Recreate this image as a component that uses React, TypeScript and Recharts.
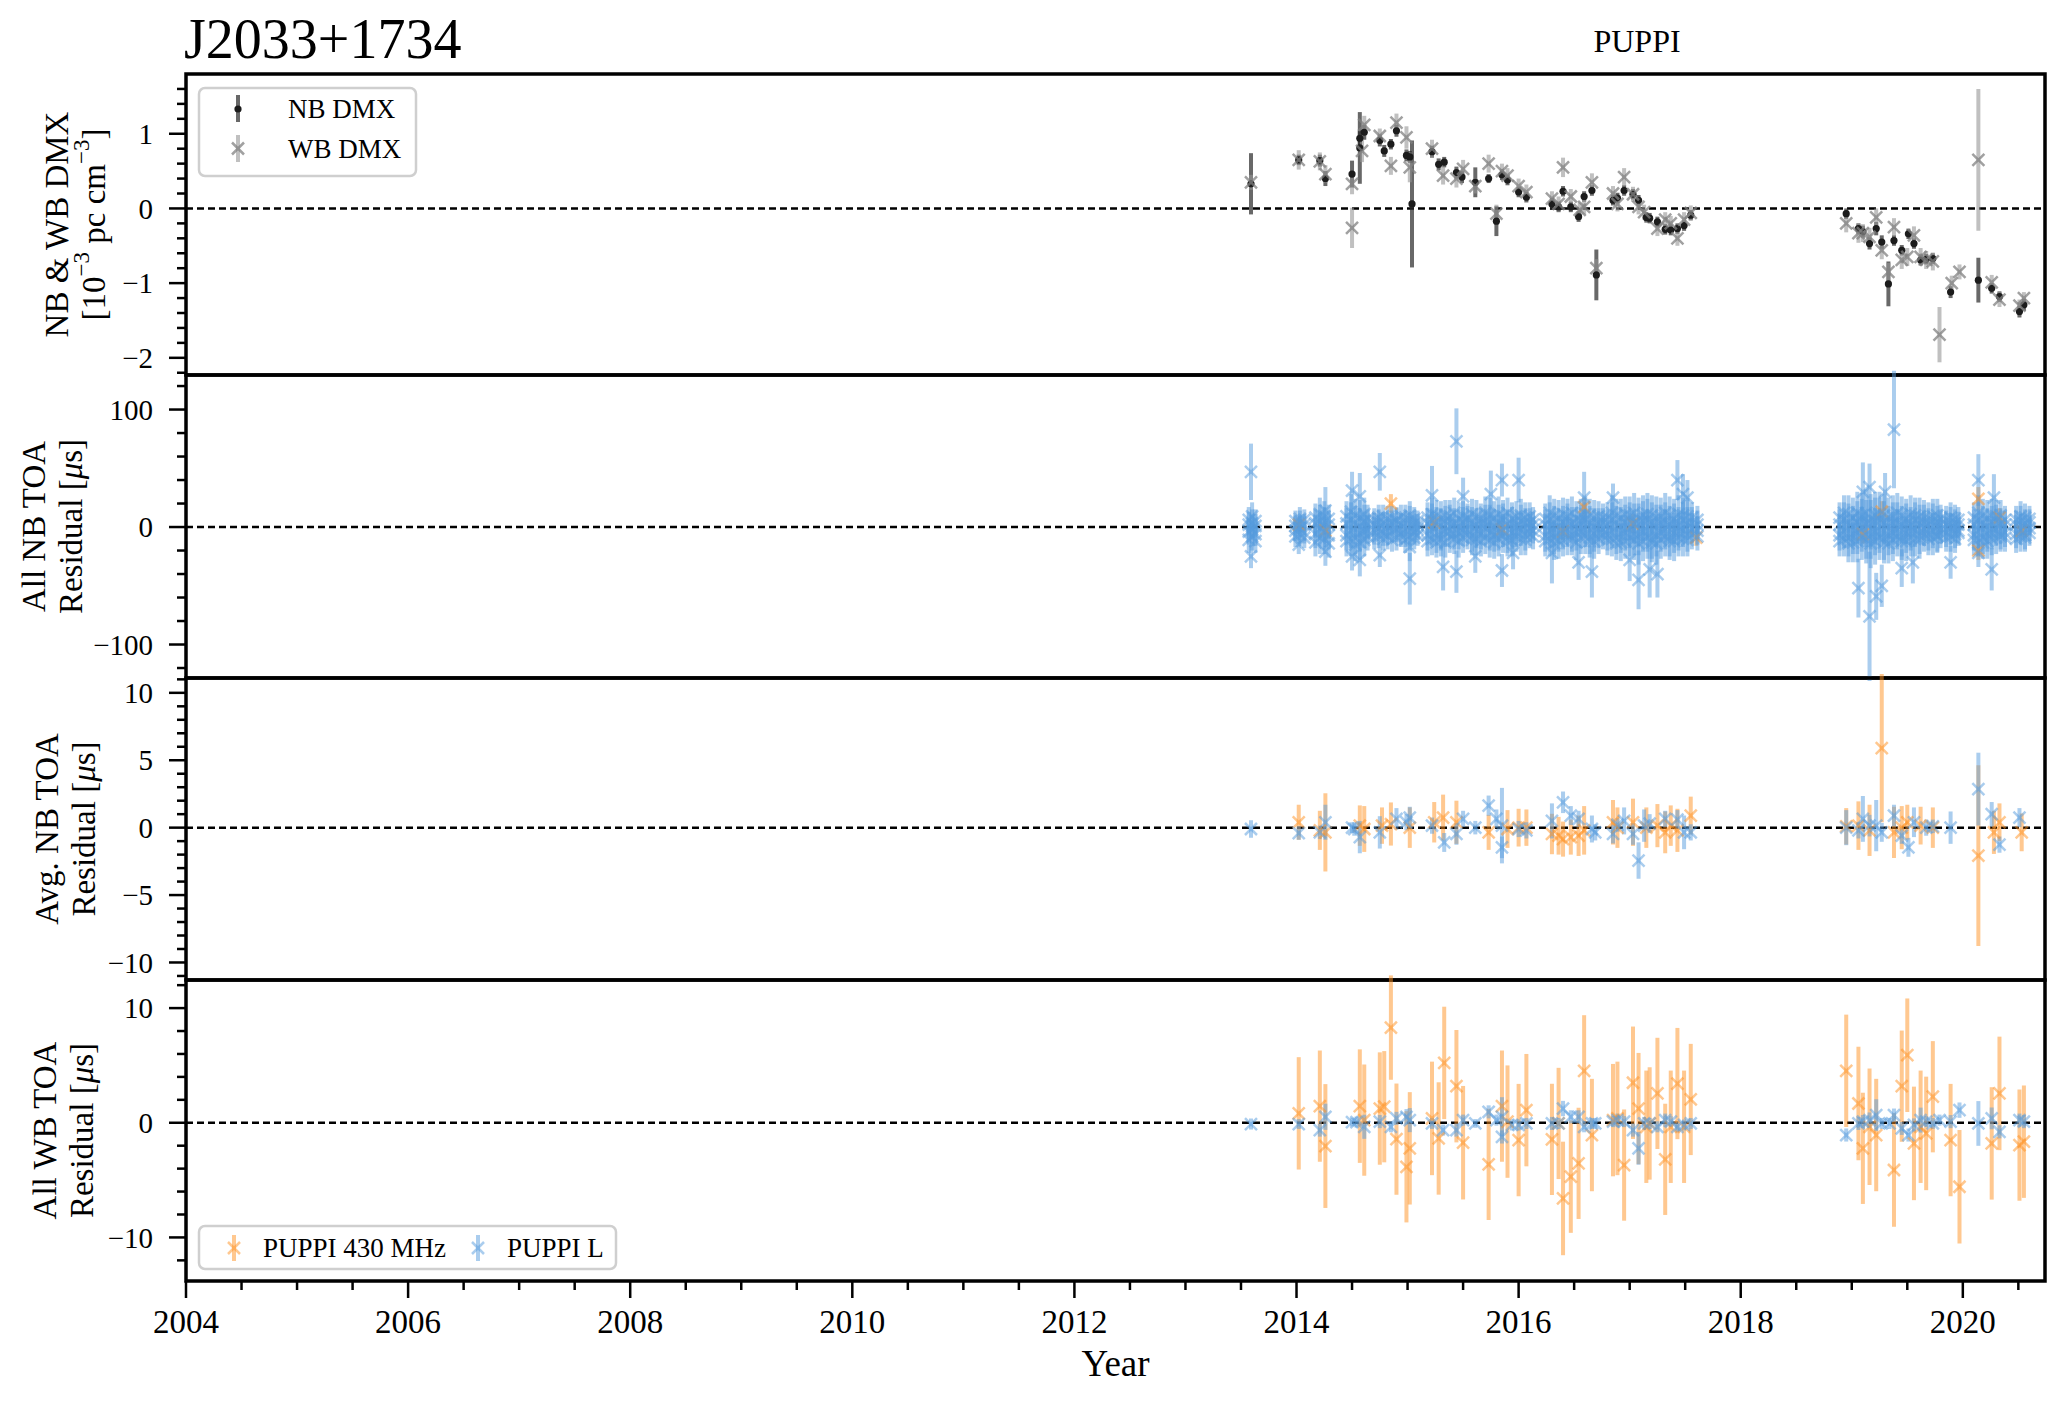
import React from 'react';
import { ScatterChart, Scatter, XAxis, YAxis, ErrorBar, ReferenceLine, ReferenceArea } from 'recharts';

const FONT = '"Liberation Serif", "Times New Roman", Times, serif';
const XMIN = 2004;
const XMAX = 2020.74;

// tick positions
const xMajor = [2004, 2006, 2008, 2010, 2012, 2014, 2016, 2018, 2020];
const xMinor = [2004.5, 2005, 2005.5, 2006.5, 2007, 2007.5, 2008.5, 2009, 2009.5, 2010.5, 2011, 2011.5,
  2012.5, 2013, 2013.5, 2014.5, 2015, 2015.5, 2016.5, 2017, 2017.5, 2018.5, 2019, 2019.5, 2020.5];
const dmxMajor = [-2, -1, 0, 1];
const dmxMinor = [-2.2, -1.8, -1.6, -1.4, -1.2, -0.8, -0.6, -0.4, -0.2, 0.2, 0.4, 0.6, 0.8, 1.2, 1.4, 1.6];
const nbMajor = [-100, 0, 100];
const nbMinor = [-120, -80, -60, -40, -20, 20, 40, 60, 80, 120];
const avgMajor = [-10, -5, 0, 5, 10];
const avgMinor = [-11, -9, -8, -7, -6, -4, -3, -2, -1, 1, 2, 3, 4, 6, 7, 8, 9, 11];
const wbMajor = [-10, 0, 10];
const wbMinor = [-12, -8, -6, -4, -2, 2, 4, 6, 8, 12];

// panel 1: DMX [year, value, err]
const nbDmx = [
  [2013.59, 0.33, 0.41], [2014.02, 0.65, 0.07], [2014.21, 0.64, 0.08], [2014.26, 0.40, 0.1],
  [2014.50, 0.46, 0.18], [2014.57, 0.81, 0.48], [2014.57, 0.94, 0.1], [2014.61, 1.02, 0.1],
  [2014.75, 0.91, 0.08], [2014.79, 0.77, 0.08], [2014.85, 0.86, 0.07], [2014.90, 1.04, 0.08],
  [2014.99, 0.71, 0.08], [2015.02, 0.69, 0.08], [2015.04, 0.06, 0.85], [2015.22, 0.76, 0.08],
  [2015.28, 0.59, 0.08], [2015.33, 0.62, 0.07], [2015.44, 0.48, 0.08], [2015.49, 0.42, 0.08],
  [2015.61, 0.35, 0.2], [2015.73, 0.40, 0.06], [2015.80, -0.17, 0.2], [2015.85, 0.45, 0.07],
  [2015.90, 0.38, 0.07], [2016.00, 0.22, 0.07], [2016.07, 0.15, 0.07], [2016.30, 0.06, 0.08],
  [2016.36, 0.02, 0.07], [2016.40, 0.23, 0.07], [2016.47, 0.02, 0.07], [2016.54, -0.11, 0.07],
  [2016.59, 0.16, 0.07], [2016.66, 0.24, 0.07], [2016.70, -0.89, 0.34], [2016.85, 0.11, 0.07],
  [2016.89, 0.14, 0.07], [2016.95, 0.24, 0.07], [2017.03, 0.19, 0.07], [2017.08, 0.11, 0.07],
  [2017.15, -0.12, 0.07], [2017.18, -0.13, 0.07], [2017.25, -0.18, 0.07], [2017.32, -0.28, 0.07],
  [2017.37, -0.29, 0.07], [2017.43, -0.27, 0.07], [2017.49, -0.23, 0.07], [2017.55, -0.09, 0.07],
  [2018.95, -0.07, 0.07], [2019.06, -0.27, 0.07], [2019.10, -0.31, 0.08], [2019.16, -0.47, 0.08],
  [2019.22, -0.27, 0.09], [2019.27, -0.45, 0.09], [2019.33, -1.01, 0.3], [2019.38, -0.43, 0.07],
  [2019.45, -0.56, 0.07], [2019.51, -0.34, 0.07], [2019.56, -0.47, 0.07], [2019.62, -0.69, 0.07],
  [2019.67, -0.68, 0.07], [2019.73, -0.67, 0.07], [2019.89, -1.12, 0.08], [2020.14, -0.96, 0.3],
  [2020.26, -1.07, 0.07], [2020.33, -1.18, 0.07], [2020.51, -1.38, 0.08], [2020.55, -1.29, 0.08],
];
const wbDmx = [
  [2013.59, 0.35, 0.1], [2014.02, 0.65, 0.13], [2014.21, 0.63, 0.12], [2014.26, 0.46, 0.12],
  [2014.50, 0.33, 0.14], [2014.50, -0.26, 0.27], [2014.59, 0.77, 0.15], [2014.61, 1.12, 0.12],
  [2014.75, 0.97, 0.1], [2014.85, 0.57, 0.12], [2014.90, 1.15, 0.12], [2014.99, 0.95, 0.15],
  [2015.02, 0.55, 0.2], [2015.22, 0.80, 0.12], [2015.32, 0.44, 0.12], [2015.44, 0.40, 0.12],
  [2015.50, 0.53, 0.12], [2015.61, 0.30, 0.1], [2015.73, 0.60, 0.12], [2015.80, -0.07, 0.12],
  [2015.85, 0.50, 0.1], [2015.90, 0.44, 0.1], [2016.00, 0.30, 0.1], [2016.07, 0.22, 0.1],
  [2016.30, 0.13, 0.1], [2016.36, 0.06, 0.1], [2016.40, 0.55, 0.13], [2016.47, 0.16, 0.1],
  [2016.55, -0.02, 0.1], [2016.59, 0.02, 0.1], [2016.66, 0.35, 0.12], [2016.70, -0.80, 0.12],
  [2016.85, 0.20, 0.1], [2016.89, 0.06, 0.1], [2016.95, 0.42, 0.12], [2017.03, 0.19, 0.1],
  [2017.08, 0.02, 0.1], [2017.13, -0.05, 0.1], [2017.25, -0.27, 0.1], [2017.32, -0.15, 0.1],
  [2017.37, -0.20, 0.1], [2017.43, -0.40, 0.1], [2017.49, -0.15, 0.1], [2017.55, -0.06, 0.1],
  [2018.95, -0.2, 0.12], [2019.06, -0.33, 0.13], [2019.10, -0.33, 0.12], [2019.16, -0.38, 0.12],
  [2019.22, -0.12, 0.12], [2019.27, -0.56, 0.12], [2019.33, -0.85, 0.12], [2019.38, -0.25, 0.12],
  [2019.45, -0.69, 0.12], [2019.50, -0.65, 0.12], [2019.56, -0.36, 0.12], [2019.62, -0.65, 0.12],
  [2019.67, -0.69, 0.12], [2019.73, -0.71, 0.12], [2019.79, -1.69, 0.37], [2019.90, -1.0, 0.1],
  [2019.97, -0.85, 0.1], [2020.14, 0.65, 0.95], [2020.26, -0.99, 0.1], [2020.33, -1.22, 0.1],
  [2020.51, -1.30, 0.08], [2020.55, -1.20, 0.08],
];

// panel 2: all NB TOAs, per epoch [year, err, residuals...]
const nbLEpochs = [
  [2013.57, 11, -4, 6, -11, 2], [2013.60, 12, 3, -8, 9, -2], [2013.63, 10, -6, 5, 1, -12],
  [2013.99, 9, -3, 5, -8, 1], [2014.03, 10, 4, -6, 7, -1], [2014.07, 9, -5, 2, 6, -9],
  [2014.17, 12, -6, 8, -13, 3], [2014.21, 14, 5, -9, 11, -2], [2014.25, 13, -10, 4, 9, -4], [2014.29, 12, 7, -7, -14, 2],
  [2014.45, 13, -7, 9, -12, 3], [2014.49, 15, 6, -10, 13, -3], [2014.53, 14, -9, 4, 10, -15],
  [2014.57, 15, 8, -6, -13, 1], [2014.61, 14, -4, 11, -11, 5], [2014.64, 12, 3, -8, 7, -2],
  [2014.70, 10, -5, 6, -9, 2], [2014.74, 11, 4, -7, 8, -1], [2014.78, 10, -6, 3, 9, -10], [2014.82, 11, 7, -4, -8, 1],
  [2014.86, 10, -3, 8, -11, 4], [2014.90, 11, 5, -9, 6, -2], [2014.94, 10, -7, 2, 9, -5], [2014.98, 11, 3, -6, 8, -11],
  [2015.02, 12, -8, 6, -3, 10], [2015.06, 10, 4, -5, 7, -9], [2015.09, 9, -2, 5, -7, 2],
  [2015.18, 13, -7, 8, -12, 3], [2015.22, 14, 6, -10, 11, -1], [2015.26, 13, -9, 4, 10, -13], [2015.30, 14, 8, -6, -11, 2],
  [2015.34, 13, -4, 10, -13, 5], [2015.38, 14, 5, -8, 9, -3], [2015.42, 13, -10, 3, 12, -6], [2015.46, 14, 7, -5, -12, 1],
  [2015.50, 13, -3, 9, -9, 4], [2015.54, 12, 6, -7, 8, -2], [2015.58, 13, -8, 4, 11, -11], [2015.62, 14, 9, -4, -10, 2],
  [2015.66, 13, -6, 7, -12, 3], [2015.70, 14, 5, -9, 12, -1], [2015.74, 15, -11, 4, 10, -5], [2015.78, 14, 8, -7, -13, 1],
  [2015.82, 15, -5, 11, -10, 4], [2015.86, 14, 6, -8, 9, -3], [2015.90, 13, -9, 2, 12, -12], [2015.94, 14, 7, -5, -11, 3],
  [2015.98, 13, -4, 9, -8, 1], [2016.02, 14, 5, -10, 10, -2], [2016.06, 13, -7, 3, 8, -11], [2016.10, 12, 4, -6, 9, -1],
  [2016.13, 11, -3, 6, -8, 2],
  [2016.24, 13, -8, 7, -12, 2], [2016.28, 15, 6, -10, 12, -3], [2016.32, 14, -9, 4, 10, -14], [2016.36, 15, 8, -6, -12, 1],
  [2016.40, 14, -5, 11, -11, 4], [2016.44, 15, 5, -9, 9, -2], [2016.48, 14, -10, 3, 12, -7], [2016.52, 15, 7, -5, -13, 2],
  [2016.56, 14, -4, 10, -9, 5], [2016.60, 15, 6, -8, 11, -2], [2016.64, 14, -9, 4, 10, -12], [2016.68, 15, 8, -6, -12, 1],
  [2016.72, 13, -5, 9, -10, 3], [2016.76, 12, 4, -7, 8, -2],
  [2016.80, 13, -7, 8, -11, 2], [2016.84, 15, 6, -10, 12, -3], [2016.88, 14, -9, 4, 10, -14], [2016.92, 16, 8, -6, -13, 1],
  [2016.96, 15, -5, 11, -12, 4], [2017.00, 16, 5, -9, 10, -2], [2017.04, 17, -11, 3, 12, -7], [2017.08, 18, 7, -6, -14, 2],
  [2017.12, 17, -4, 10, -12, 5], [2017.16, 18, 6, -9, 11, -3], [2017.20, 17, -10, 4, 10, -13], [2017.24, 18, 8, -7, -14, 1],
  [2017.28, 16, -5, 9, -11, 3], [2017.32, 17, 4, -8, 12, -2], [2017.36, 16, -9, 2, 10, -12], [2017.40, 17, 7, -5, -12, 3],
  [2017.44, 16, -4, 11, -9, 1], [2017.48, 15, 6, -10, 10, -2], [2017.52, 14, -7, 3, 9, -11], [2017.56, 13, 4, -6, 8, -1],
  [2017.61, 12, -3, 6, -8, 2],
  [2018.89, 13, -7, 8, -12, 2], [2018.93, 15, 6, -10, 12, -3], [2018.97, 16, -9, 4, 11, -14], [2019.01, 17, 8, -6, -13, 1],
  [2019.05, 18, -5, 12, -12, 4], [2019.09, 19, 5, -9, 10, -2], [2019.13, 20, -11, 3, 12, -7], [2019.17, 21, 7, -6, -14, 2],
  [2019.21, 20, -4, 10, -12, 5], [2019.25, 19, 6, -9, 11, -3], [2019.29, 18, -10, 4, 10, -13], [2019.33, 17, 8, -7, -14, 1],
  [2019.37, 18, -5, 9, -11, 3], [2019.41, 17, 4, -8, 12, -2], [2019.45, 16, -9, 2, 10, -12], [2019.49, 17, 7, -5, -12, 3],
  [2019.53, 16, -4, 11, -9, 1], [2019.57, 15, 6, -10, 10, -2], [2019.61, 16, -7, 3, 9, -11], [2019.65, 15, 4, -6, 8, -1],
  [2019.69, 14, -6, 7, -10, 2], [2019.73, 15, 5, -9, 9, -3], [2019.77, 14, -8, 4, 10, -7], [2019.80, 12, 3, -6, 7, -2],
  [2019.85, 12, -5, 6, -9, 2], [2019.89, 13, 4, -8, 8, -1], [2019.93, 12, -6, 3, 7, -10], [2019.96, 11, 2, -5, 6, -3],
  [2020.10, 13, -7, 8, -11, 2], [2020.14, 15, 6, -10, 12, -3], [2020.18, 14, -9, 4, 10, -13], [2020.22, 15, 8, -6, -12, 1],
  [2020.26, 14, -5, 10, -10, 4], [2020.30, 14, 5, -9, 9, -2], [2020.34, 13, -8, 3, 10, -6], [2020.38, 12, 6, -5, -9, 2],
  [2020.48, 12, -6, 6, -10, 2], [2020.52, 13, 5, -8, 9, -2], [2020.56, 12, -7, 3, 8, -9], [2020.60, 11, 4, -5, 7, -1],
];
// panel 2 outlying TOAs [year, residual, err]
const nbLOutliers = [
  [2013.59, 47, 24], [2013.59, -25, 10], [2014.02, -15, 8], [2014.26, -21, 12], [2014.26, 14, 20],
  [2014.50, 31, 16], [2014.50, -25, 12], [2014.57, -28, 14], [2014.57, 26, 20],
  [2014.75, 47, 16], [2014.75, -24, 10], [2015.02, -44, 22], [2015.02, -17, 12],
  [2015.22, 27, 25], [2015.32, -34, 20], [2015.44, 73, 28], [2015.44, -38, 18], [2015.50, 26, 16],
  [2015.61, -25, 14], [2015.85, 40, 14], [2015.85, -37, 14], [2016.00, 40, 19], [2015.75, 28, 20], [2015.95, -22, 14],
  [2016.59, 25, 22], [2016.54, -30, 15], [2016.66, -38, 22], [2016.30, -22, 26],
  [2016.85, 25, 12], [2017.43, 40, 17], [2017.48, 28, 17], [2017.25, -40, 20], [2017.08, -45, 25],
  [2017.18, -36, 24], [2017.52, 25, 15], [2017.00, -28, 18],
  [2019.06, -52, 25], [2019.16, -76, 55], [2019.16, 34, 20], [2019.22, -59, 20], [2019.27, -50, 18],
  [2019.38, 83, 50], [2019.10, 30, 25], [2019.45, -35, 16], [2019.30, 30, 16], [2019.55, -30, 18],
  [2019.89, -30, 14], [2020.14, 40, 22], [2020.14, -22, 12], [2020.28, 25, 20], [2020.26, -36, 18],
];
const nb430 = [
  [2014.85, 20, 8], [2014.02, 2, 6], [2014.26, -3, 8], [2015.24, 4, 7], [2015.85, -2, 7],
  [2016.59, 17, 8], [2016.40, -4, 7], [2017.03, 3, 8], [2017.60, -9, 7], [2019.27, 13, 9],
  [2019.10, -6, 8], [2020.14, 24, 10], [2020.14, -20, 8], [2020.33, 8, 8], [2020.53, -3, 6],
];

// panel 3: epoch-averaged NB TOAs [year, residual, err]
const avgNb430 = [
  [2014.02, 0.4, 1.3], [2014.21, -0.2, 1.45], [2014.26, -0.35, 2.9], [2014.57, 0.15, 1.5], [2014.61, -0.1, 1.7],
  [2014.77, 0.15, 1.35], [2014.85, 0.27, 1.6], [2015.02, 0.0, 1.5], [2015.24, 0.4, 1.5], [2015.32, 0.75, 1.7],
  [2015.44, 0.4, 1.6], [2015.73, -0.35, 1.3], [2015.90, -0.1, 1.4], [2016.00, 0.0, 1.4], [2016.07, 0.0, 1.35],
  [2016.30, -0.47, 1.5], [2016.36, -0.6, 1.4], [2016.40, -0.85, 1.3], [2016.47, -0.7, 1.3], [2016.54, -0.6, 1.5],
  [2016.59, -0.2, 1.8], [2016.85, 0.4, 1.65], [2016.89, 0.0, 1.5], [2017.03, 0.4, 1.75], [2017.15, 0.0, 1.5],
  [2017.25, 0.15, 1.6], [2017.32, -0.35, 1.55], [2017.37, 0.15, 1.5], [2017.43, -0.2, 1.6], [2017.55, 0.9, 1.4],
  [2018.95, 0.1, 1.35], [2019.06, 0.15, 1.8], [2019.16, -0.2, 1.9], [2019.27, 5.9, 5.5], [2019.38, -0.35, 1.9],
  [2019.45, 0.0, 1.6], [2019.50, 0.4, 1.3], [2019.62, 0.15, 1.4], [2019.73, 0.0, 1.5], [2020.14, -2.07, 6.7],
  [2020.28, -0.35, 1.6], [2020.33, 0.4, 1.4], [2020.53, -0.35, 1.4],
];
const avgNbL = [
  [2013.59, -0.1, 0.65], [2014.02, -0.4, 0.5], [2014.21, -0.35, 0.5], [2014.26, 0.4, 1.3], [2014.50, 0.0, 0.4],
  [2014.52, -0.1, 0.5], [2014.57, -0.7, 1.2], [2014.75, -0.35, 1.2], [2014.90, 0.65, 0.8], [2014.99, 0.4, 0.6],
  [2015.02, 0.75, 0.8], [2015.22, 0.15, 0.6], [2015.33, -1.1, 0.7], [2015.44, -0.47, 0.8], [2015.50, 0.65, 0.6],
  [2015.61, 0.0, 0.5], [2015.73, 1.63, 0.75], [2015.80, 0.65, 0.7], [2015.85, 0.15, 2.8], [2015.85, -1.46, 0.8],
  [2016.00, -0.1, 0.6], [2016.07, -0.2, 0.6], [2016.30, 0.5, 1.3], [2016.40, 1.88, 0.8], [2016.47, 0.9, 0.7],
  [2016.54, 0.65, 0.6], [2016.66, -0.1, 1.0], [2016.69, -0.35, 0.6], [2016.85, -0.47, 0.7], [2016.89, 0.2, 0.5],
  [2016.95, 0.5, 1.0], [2017.03, -0.47, 0.8], [2017.08, -2.44, 1.35], [2017.13, 0.15, 1.2], [2017.18, 0.3, 0.7],
  [2017.32, 0.65, 0.6], [2017.43, 0.6, 0.7], [2017.49, -0.35, 1.25], [2017.55, -0.35, 0.6],
  [2018.95, 0.0, 1.3], [2019.06, -0.2, 0.6], [2019.10, 0.65, 1.7], [2019.16, 0.15, 0.8], [2019.22, 0.15, 1.9],
  [2019.27, -0.35, 0.7], [2019.38, 0.9, 0.8], [2019.45, -0.6, 0.6], [2019.51, -1.46, 0.7], [2019.56, 0.4, 1.1],
  [2019.67, 0.0, 0.6], [2019.73, 0.1, 0.5], [2019.89, 0.0, 1.2], [2020.14, 2.86, 2.7], [2020.26, 1.0, 0.9],
  [2020.33, -1.26, 0.6], [2020.51, 0.75, 0.7],
];

// panel 4: all WB TOAs [year, residual, err]
const wb430 = [
  [2014.02, 0.82, 4.9], [2014.21, 1.45, 4.85], [2014.26, -2.03, 5.4], [2014.57, 1.45, 4.95], [2014.61, 0.23, 4.85],
  [2014.75, 1.24, 4.9], [2014.79, 1.4, 4.85], [2014.85, 8.3, 4.55], [2014.90, -1.43, 4.85], [2014.99, -3.84, 4.85],
  [2015.02, -2.23, 4.9], [2015.22, 0.38, 4.95], [2015.28, -1.37, 4.9], [2015.33, 5.22, 4.9], [2015.44, 3.19, 4.9],
  [2015.50, -1.74, 4.95], [2015.73, -3.63, 4.85], [2015.85, 1.45, 4.85], [2015.90, 0.1, 4.9], [2016.00, -1.51, 4.9],
  [2016.07, 1.1, 4.9], [2016.30, -1.45, 4.85], [2016.36, -0.06, 4.85], [2016.40, -6.6, 4.95], [2016.47, -4.7, 4.9],
  [2016.54, -3.54, 4.85], [2016.59, 4.53, 4.85], [2016.66, -1.07, 4.9], [2016.85, 0.23, 4.9], [2016.89, 0.38, 4.95],
  [2016.95, -3.69, 4.85], [2017.03, 3.49, 4.9], [2017.08, 1.24, 4.85], [2017.15, -0.35, 4.9], [2017.18, -0.06, 4.9],
  [2017.25, 2.56, 4.85], [2017.32, -3.19, 4.85], [2017.37, -0.35, 4.9], [2017.43, 3.42, 4.85], [2017.49, -0.35, 4.9],
  [2017.55, 2.03, 4.85], [2018.95, 4.53, 4.9], [2019.06, 1.68, 4.95], [2019.10, -2.23, 4.85], [2019.16, -0.35, 5.08],
  [2019.22, -1.07, 4.9], [2019.38, -4.12, 4.95], [2019.45, 3.19, 4.85], [2019.50, 5.89, 4.95], [2019.56, -1.8, 4.95],
  [2019.62, -0.35, 4.9], [2019.67, -0.93, 4.95], [2019.73, 2.27, 4.85], [2019.89, -1.51, 4.9], [2019.97, -5.58, 4.95],
  [2020.26, -1.8, 4.9], [2020.33, 2.56, 4.95], [2020.51, -1.95, 4.85], [2020.55, -1.65, 4.9],
];
const wbL = [
  [2013.59, -0.11, 0.48], [2014.02, -0.11, 0.43], [2014.21, -0.64, 0.57], [2014.26, 0.52, 1.14], [2014.50, 0.06, 0.38],
  [2014.54, 0.06, 0.48], [2014.61, -0.35, 1.05], [2014.75, 0.1, 0.57], [2014.85, -0.35, 0.48], [2014.90, 0.38, 0.57],
  [2014.99, 0.52, 0.67], [2015.02, 0.23, 1.05], [2015.22, -0.06, 0.48], [2015.32, -0.64, 0.48], [2015.44, -0.64, 0.57],
  [2015.50, 0.23, 0.48], [2015.61, -0.06, 0.38], [2015.73, 0.95, 0.57], [2015.80, 0.23, 0.48], [2015.85, 0.52, 1.71],
  [2015.85, -1.24, 0.57], [2015.94, -0.19, 0.48], [2016.00, -0.19, 0.48], [2016.07, -0.06, 0.48], [2016.30, -0.06, 0.57],
  [2016.36, -0.06, 0.48], [2016.40, 1.24, 0.67], [2016.47, 0.52, 0.57], [2016.54, 0.52, 0.57], [2016.59, -0.35, 0.48],
  [2016.66, -0.06, 0.48], [2016.69, -0.06, 0.48], [2016.85, 0.1, 0.48], [2016.89, 0.23, 0.57], [2016.95, 0.1, 0.48],
  [2017.03, -0.64, 0.57], [2017.08, -2.23, 1.43], [2017.13, -0.06, 0.57], [2017.18, -0.06, 0.48], [2017.25, -0.35, 0.48],
  [2017.32, 0.23, 0.57], [2017.37, 0.1, 0.48], [2017.43, -0.35, 0.48], [2017.49, -0.19, 0.48], [2017.55, -0.06, 0.48],
  [2018.95, -1.07, 0.57], [2019.06, -0.06, 0.57], [2019.10, 0.1, 0.57], [2019.16, 0.23, 0.67], [2019.22, 0.67, 1.38],
  [2019.27, -0.06, 0.48], [2019.34, -0.06, 0.48], [2019.38, 0.67, 0.57], [2019.45, -0.49, 0.57], [2019.51, -1.07, 0.57],
  [2019.56, -0.19, 0.57], [2019.62, 0.23, 1.09], [2019.67, 0.1, 0.48], [2019.73, -0.06, 0.48], [2019.79, 0.23, 0.48],
  [2019.89, 0.1, 0.57], [2019.97, 1.1, 0.67], [2020.14, -0.06, 1.95], [2020.26, 0.38, 0.95], [2020.33, -0.79, 0.57],
  [2020.51, 0.23, 0.57], [2020.55, 0.1, 0.57],
];

const BLUE = 'rgba(85,155,221,0.5)';
const ORANGE = 'rgba(255,145,33,0.5)';
const NB_BAR = 'rgba(40,40,40,0.7)';
const NB_DOT = '#1c1c1c';
const WB_BAR = 'rgba(150,150,150,0.6)';
const WB_MARK = 'rgba(130,130,130,0.75)';

type Pt = { x: number; y: number; err: number };
const toPts = (rows: number[][]): Pt[] => rows.map(([x, y, err]) => ({ x, y, err }));
const epochPts = (rows: number[][]): Pt[] =>
  rows.flatMap(([x, err, ...ys]) => ys.map((y) => ({ x, y, err })));

const fmt = (v: number) => (v < 0 ? `\u2212${Math.abs(v)}` : `${v}`);

const xPath = (cx: number, cy: number, r: number) =>
  `M${cx - r},${cy - r}L${cx + r},${cy + r}M${cx - r},${cy + r}L${cx + r},${cy - r}`;

const xShape = (color: string) => (props: any) => {
  const { cx, cy } = props;
  if (cx == null || cy == null) return <g />;
  return <path d={xPath(cx, cy, 6)} stroke={color} strokeWidth={2.5} fill="none" />;
};
const dotShape = (props: any) => {
  const { cx, cy } = props;
  if (cx == null || cy == null) return <g />;
  return <circle cx={cx} cy={cy} r={3.6} fill={NB_DOT} />;
};

const yTick = (majors: number[]) => (props: any) => {
  const { x, y, payload } = props;
  const v = payload.value;
  const major = majors.indexOf(v) >= 0;
  return (
    <g>
      <line x1={x - (major ? 17 : 9)} x2={x} y1={y} y2={y} stroke="#000" strokeWidth={2.5} />
      {major && (
        <text x={x - 33} y={y} dy="0.35em" textAnchor="end" fontSize={29} fontFamily={FONT} fill="#000">
          {fmt(v)}
        </text>
      )}
    </g>
  );
};
const xTick = (props: any) => {
  const { x, y, payload } = props;
  const v = payload.value;
  const major = xMajor.indexOf(v) >= 0;
  return (
    <g>
      <line x1={x} x2={x} y1={y} y2={y + (major ? 17 : 9)} stroke="#000" strokeWidth={2.5} />
      {major && (
        <text x={x} y={y + 52} textAnchor="middle" fontSize={33} fontFamily={FONT} fill="#000">
          {v}
        </text>
      )}
    </g>
  );
};

const W = 2065;
const PLOT_L = 186;
const PLOT_R = 2045;
const YW = 110;
const PAD = 30;
const XAXIS_H = 100;

type PanelProps = {
  top: number;
  bottom: number;
  domain: [number, number];
  major: number[];
  minor: number[];
  showX?: boolean;
  children?: React.ReactNode;
};

function Panel({ top, bottom, domain, major, minor, showX, children }: PanelProps) {
  const h = bottom - top;
  const height = h + PAD + (showX ? XAXIS_H : PAD);
  return (
    <div style={{ position: 'absolute', left: 0, top: top - PAD }}>
      <ScatterChart
        width={W}
        height={height}
        margin={{ top: PAD, right: W - PLOT_R, bottom: showX ? 0 : PAD, left: PLOT_L - YW }}
      >
        <XAxis
          type="number"
          dataKey="x"
          domain={[XMIN, XMAX]}
          allowDataOverflow
          hide={!showX}
          height={XAXIS_H}
          ticks={[...xMajor, ...xMinor]}
          interval={0}
          tick={xTick}
          tickLine={false}
          axisLine={false}
          tickSize={0}
          tickMargin={0}
        />
        <YAxis
          type="number"
          dataKey="y"
          domain={domain}
          allowDataOverflow
          width={YW}
          ticks={[...major, ...minor]}
          interval={0}
          tick={yTick(major)}
          tickLine={false}
          axisLine={false}
          tickSize={0}
          tickMargin={0}
        />
        <ReferenceLine y={0} stroke="#000" strokeWidth={2.5} strokeDasharray="7 4" />
        {children}
        <ReferenceArea x1={XMIN} x2={XMAX} y1={domain[0]} y2={domain[1]} fill="none" fillOpacity={0} stroke="#000" strokeWidth={3.5} />
      </ScatterChart>
    </div>
  );
}

const series = (data: Pt[], bar: string, shape: any, key: string) => (
  <Scatter key={key} data={data} shape={shape} isAnimationActive={false}>
    <ErrorBar dataKey="err" direction="y" width={0} stroke={bar} strokeWidth={4} isAnimationActive={false} />
  </Scatter>
);

const yLabels = [
  { cy: 224.5, x1: 57, x2: 94, l1: 'NB & WB DMX', l2: 'dmx' },
  { cy: 526.5, x1: 34, x2: 71, l1: 'All NB TOA', l2: 'res' },
  { cy: 829, x1: 47, x2: 84, l1: 'Avg. NB TOA', l2: 'res' },
  { cy: 1130.5, x1: 45, x2: 82, l1: 'All WB TOA', l2: 'res' },
];

function Overlay() {
  const rot = (x: number, y: number) => `translate(${x},${y}) rotate(-90)`;
  return (
    <svg width={W} height={1404} style={{ position: 'absolute', left: 0, top: 0, pointerEvents: 'none' }} fontFamily={FONT}>
      <text x={184} y={58} fontSize={56} fill="#000">J2033+1734</text>
      <text x={1637} y={52} fontSize={32} textAnchor="middle" fill="#000">PUPPI</text>
      <text x={(PLOT_L + PLOT_R) / 2} y={1376} fontSize={37} textAnchor="middle" fill="#000">Year</text>
      {yLabels.map((l, i) => (
        <g key={i} fontSize={33} fill="#000">
          <text transform={rot(l.x1, l.cy)} textAnchor="middle" dominantBaseline="central">{l.l1}</text>
          {l.l2 === 'dmx' ? (
            <text transform={rot(l.x2, l.cy)} textAnchor="middle" dominantBaseline="central">
              [10<tspan fontSize={23} baselineShift="super">{'\u22123'}</tspan> pc cm<tspan fontSize={23} baselineShift="super">{'\u22123'}</tspan>]
            </text>
          ) : (
            <text transform={rot(l.x2, l.cy)} textAnchor="middle" dominantBaseline="central">
              Residual [<tspan fontStyle="italic">{'\u03bc'}</tspan>s]
            </text>
          )}
        </g>
      ))}
      {/* legend, top panel */}
      <rect x={199} y={88} width={217} height={88} rx={6} fill="rgba(255,255,255,0.8)" stroke="#cfcfcf" strokeWidth={2.5} />
      <line x1={238} x2={238} y1={95} y2={122} stroke={NB_BAR} strokeWidth={4} />
      <circle cx={238} cy={109} r={3.6} fill={NB_DOT} />
      <text x={288} y={109} dy="0.35em" fontSize={27} fill="#000">NB DMX</text>
      <line x1={238} x2={238} y1={135} y2={162} stroke={WB_BAR} strokeWidth={4} />
      <path d={xPath(238, 148.5, 6)} stroke={WB_MARK} strokeWidth={2.5} fill="none" />
      <text x={288} y={148.5} dy="0.35em" fontSize={27} fill="#000">WB DMX</text>
      {/* legend, bottom panel */}
      <rect x={199} y={1226} width={417} height={43} rx={6} fill="rgba(255,255,255,0.8)" stroke="#cfcfcf" strokeWidth={2.5} />
      <line x1={234} x2={234} y1={1235} y2={1261} stroke={ORANGE} strokeWidth={4} />
      <path d={xPath(234, 1248, 6)} stroke={ORANGE} strokeWidth={2.5} fill="none" />
      <text x={263} y={1248} dy="0.35em" fontSize={27} fill="#000">PUPPI 430 MHz</text>
      <line x1={478} x2={478} y1={1235} y2={1261} stroke={BLUE} strokeWidth={4} />
      <path d={xPath(478, 1248, 6)} stroke={BLUE} strokeWidth={2.5} fill="none" />
      <text x={507} y={1248} dy="0.35em" fontSize={27} fill="#000">PUPPI L</text>
    </svg>
  );
}

export default function App() {
  const nbLPts = [...epochPts(nbLEpochs), ...toPts(nbLOutliers)];
  return (
    <div style={{ position: 'relative', width: W, height: 1404, background: '#fff', fontFamily: FONT }}>
      <style>{'body{margin:0;background:#fff}'}</style>
      <Panel top={74} bottom={375} domain={[-2.23, 1.8]} major={dmxMajor} minor={dmxMinor}>
        {series(toPts(nbDmx), NB_BAR, dotShape, 'nbdmx')}
        {series(toPts(wbDmx), WB_BAR, xShape(WB_MARK), 'wbdmx')}
      </Panel>
      <Panel top={375} bottom={678} domain={[-128.5, 129.4]} major={nbMajor} minor={nbMinor}>
        {series(toPts(nb430), ORANGE, xShape(ORANGE), 'nb430')}
        {series(nbLPts, BLUE, xShape(BLUE), 'nbL')}
      </Panel>
      <Panel top={678} bottom={980} domain={[-11.3, 11.1]} major={avgMajor} minor={avgMinor}>
        {series(toPts(avgNb430), ORANGE, xShape(ORANGE), 'avg430')}
        {series(toPts(avgNbL), BLUE, xShape(BLUE), 'avgL')}
      </Panel>
      <Panel top={980} bottom={1281} domain={[-13.8, 12.45]} major={wbMajor} minor={wbMinor} showX>
        {series(toPts(wb430), ORANGE, xShape(ORANGE), 'wb430')}
        {series(toPts(wbL), BLUE, xShape(BLUE), 'wbL')}
      </Panel>
      <Overlay />
    </div>
  );
}
